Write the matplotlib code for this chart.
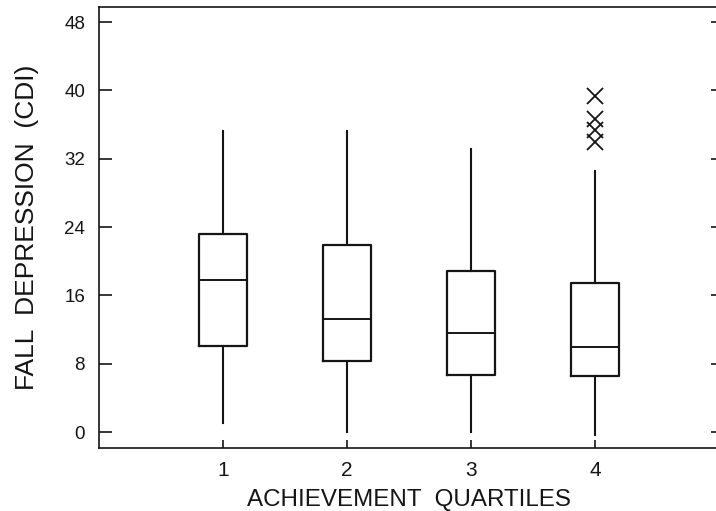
import matplotlib
matplotlib.use("Agg")
from matplotlib import pyplot as plt

# values (CDI scores by achievement quartile)
quartiles = [1, 2, 3, 4]
whisker_low = [1.1, 0.0, 0.0, -0.3]
q1 = [10.1, 8.35, 6.7, 6.6]
medians = [17.8, 13.2, 11.6, 10.0]
q3 = [23.2, 21.9, 18.8, 17.4]
whisker_high = [35.2, 35.3, 33.1, 30.6]
outliers = [[], [], [], [39.3, 36.6, 35.4, 34.0]]

y_ticks = [0, 8, 16, 24, 32, 40, 48]

ink = "#151515"
plt.rcParams["font.family"] = ["Liberation Sans", "DejaVu Sans"]

stats = []
for i in range(len(quartiles)):
    stats.append(dict(med=medians[i], q1=q1[i], q3=q3[i],
                      whislo=whisker_low[i], whishi=whisker_high[i],
                      fliers=outliers[i], label=str(quartiles[i])))

fig = plt.figure(figsize=(7.16, 5.11), dpi=100)
ax = fig.add_axes([99 / 716, 63 / 511, 620 / 716, 441 / 511])

ax.bxp(stats, positions=quartiles, widths=0.38, showcaps=False,
       boxprops=dict(color=ink, linewidth=1.6),
       medianprops=dict(color=ink, linewidth=1.4),
       whiskerprops=dict(color=ink, linewidth=1.5),
       flierprops=dict(marker="x", markersize=12, markeredgecolor=ink,
                       markeredgewidth=1.3, linestyle="none"))

ax.set_xlim(0, 5)
ax.set_ylim(-1.87, 49.76)
ax.set_yticks(y_ticks)
ax.set_xticks(quartiles)
ax.set_xticklabels([str(q) for q in quartiles])

for side in ["left", "bottom", "top"]:
    ax.spines[side].set_linewidth(1.2)
    ax.spines[side].set_color(ink)
ax.spines["right"].set_visible(False)

ax.tick_params(axis="y", direction="in", length=9, width=1.2, color=ink,
               labelsize=13.5, pad=10, right=True, labelcolor=ink)
ax.tick_params(axis="x", direction="in", length=6, width=1.2, color=ink,
               labelsize=15, pad=9, labelcolor=ink)
# right-hand ticks are only small stubs at the cropped edge
for t in ax.yaxis.get_major_ticks():
    t.tick2line.set_markersize(6)

ax.set_xlabel("ACHIEVEMENT  QUARTILES", fontsize=17.4, color=ink)
ax.set_ylabel("FALL  DEPRESSION  (CDI)", fontsize=19, color=ink)
ax.xaxis.set_label_coords(0.5, -0.093)
ax.yaxis.set_label_coords(-0.097, 0.5)

fig.savefig("out.png", dpi=100)
